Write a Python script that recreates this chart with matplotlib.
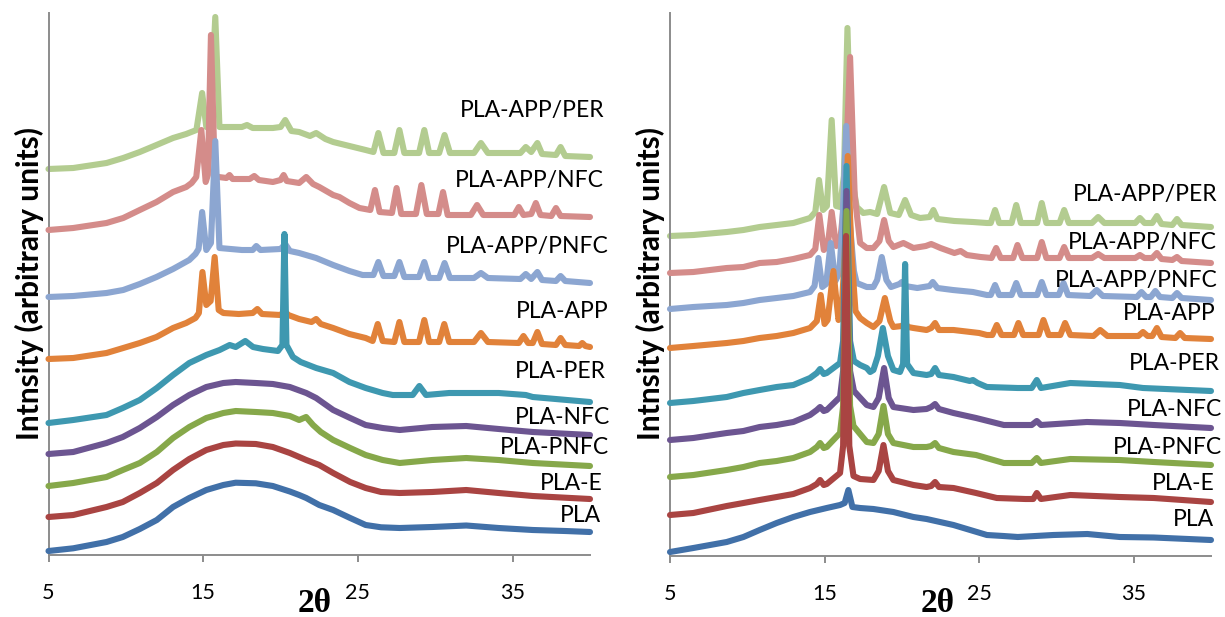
"""Stacked XRD patterns of PLA and its composites: two panels, offset curves,
labels at the right end of each curve."""

import matplotlib
matplotlib.use("Agg")
import matplotlib.pyplot as plt

SERIES = ["PLA", "PLA-E", "PLA-PNFC", "PLA-NFC", "PLA-PER", "PLA-APP",
          "PLA-APP/PNFC", "PLA-APP/NFC", "PLA-APP/PER"]
COLORS = {"PLA": "#4170A8", "PLA-E": "#A94442", "PLA-PNFC": "#86A84A",
          "PLA-NFC": "#6C5591", "PLA-PER": "#3E98B0", "PLA-APP": "#E1823A",
          "PLA-APP/PNFC": "#8CA6D1", "PLA-APP/NFC": "#D48C8A",
          "PLA-APP/PER": "#B3CC90"}
XTICKS = [5, 15, 25, 35]

# ---------------- left panel (2theta, intensity a.u.) ----------------
L_PLA_TT = [5, 6.6, 8.75, 9.8, 10.9, 12.0, 13.05, 14.1, 15.2, 16.3, 17.1, 18.4, 19.5, 20.6, 21.2, 21.66, 22.5, 23.4,
            24.5, 25.5, 26.5, 27.7, 29.8, 32, 34.1, 36.3, 38.4, 40]
L_PLA_I = [4, 6.7, 13, 18, 26, 35, 48, 57, 65, 70, 72.3, 71.7, 69, 63.5, 60, 57, 50, 45,
           37, 30, 27.7, 27, 28, 29.5, 27, 25, 24, 23]

L_E_TT = [5, 6.6, 8.75, 9.8, 10.9, 12.0, 13.05, 14.1, 15.2, 16.3, 17.1, 18.4, 19.5, 20.6, 21.66, 22.5, 23.4, 24.5,
          25.5, 26.5, 27.7, 29.8, 32, 34.1, 36.3, 40]
L_E_I = [38, 40, 48, 53, 62, 72, 85, 96, 105, 110, 111.5, 111, 108, 102, 95, 90, 82, 73,
         67, 63, 62, 63, 65, 62, 59, 56]

L_PNFC_TT = [5, 6.6, 8.75, 9.8, 10.9, 12.0, 13.05, 14.1, 15.2, 16.3, 17.1, 18.4, 19.5, 20.6, 21.2, 21.65, 22.1,
             22.6, 23.4, 24.5, 25.5, 26.6, 27.7, 29.8, 32, 34.1, 36.3, 40]
L_PNFC_I = [69, 72, 78, 85, 92, 103, 117, 128, 137, 142, 144, 143, 142, 139, 135, 138, 130,
            123, 115, 107, 100, 95, 92, 95, 97, 95, 92, 89]

L_NFC_TT = [5, 6.6, 8.75, 9.8, 10.9, 12.0, 13.05, 14.1, 15.2, 16.3, 17.1, 18.4, 19.5, 20.6, 21.66, 22.3, 23.4,
            24.5, 25.5, 26.6, 27.7, 29.8, 32, 34.1, 36.3, 40]
L_NFC_I = [101, 103, 112, 118, 127, 138, 150, 160, 168, 172, 173, 172, 171, 168, 162, 157, 145,
           137, 130, 127, 125, 128, 129, 126, 123, 120]

L_PER_TT = [5, 6.6, 8.75, 9.8, 10.9, 12.0, 13.05, 14.1, 15.2, 16.06, 16.71, 17.1, 17.72, 18.22, 18.86, 19.83,
            20.12, 20.25, 20.38, 20.8, 21.3, 22.3, 23.4, 24.45, 25.5, 26.6, 27.25, 28.54, 28.97, 29.4, 30.9,
            34.1, 35.85, 36.3, 40]
L_PER_I = [132, 135, 140, 147, 155, 167, 180, 192, 200, 205, 210, 208, 214, 208, 206, 204,
           210, 321, 210, 198, 193, 187, 182, 173, 167, 162, 160, 160, 169, 160, 162,
           162, 160, 158, 153]

L_APP_TT = [5, 6.6, 8.75, 9.83, 10.9, 11.98, 13.05, 13.9, 14.5, 14.72, 14.95, 15.2, 15.48, 15.74, 16.0, 16.3,
            17.3, 18.2, 18.5, 18.8, 20.0, 20.25, 20.5, 21.2, 22.0, 22.3, 22.6, 23.4, 24.45, 25.5, 25.95, 26.28,
            26.6, 27.35, 27.68, 28.0, 28.95, 29.29, 29.6, 30.25, 30.58, 30.9, 32.5, 32.95, 33.4, 35.4, 35.7,
            36.0, 36.3, 36.6, 36.9, 37.8, 38.1, 38.4, 39.3, 39.5, 39.7, 40]
L_APP_I = [196, 197, 202, 207, 212, 218, 227, 232, 237, 242, 283, 250, 254, 298, 245, 242,
           241, 242, 246, 241, 240, 244, 240, 236, 233, 236, 231, 227, 221, 217, 214, 231,
           214, 213, 233, 213, 213, 235, 213, 213, 231, 213, 213, 222, 213, 212, 219,
           212, 212, 223, 211, 210, 217, 210, 209, 212, 209, 208]

L_APP_PNFC_TT = [5, 6.6, 8.75, 9.83, 10.9, 11.98, 13.05, 14.1, 14.5, 14.7, 14.93, 15.2, 15.5, 15.78, 16.05,
                 17.5, 18.2, 18.43, 18.7, 20.0, 20.3, 20.6, 21.2, 22.3, 23.4, 24.45, 25.3, 26.0, 26.32, 26.65,
                 27.35, 27.68, 28.0, 28.95, 29.29, 29.6, 30.25, 30.6, 30.95, 32.5, 32.95, 33.4, 35.5, 35.85,
                 36.2, 36.6, 36.9, 37.8, 38.1, 38.4, 40]
L_APP_PNFC_I = [258, 259, 262, 265, 271, 278, 286, 295, 301, 306, 343, 305, 312, 414, 307,
                305, 305, 309, 305, 306, 311, 304, 302, 297, 290, 284, 280, 280, 293, 279,
                279, 293, 278, 278, 293, 277, 277, 292, 277, 277, 282, 277, 276, 281,
                276, 283, 275, 274, 279, 274, 272]

L_APP_NFC_TT = [5, 6.6, 8.75, 9.83, 10.9, 11.98, 13.05, 13.9, 14.25, 14.55, 14.88, 15.16, 15.3, 15.5, 15.75,
                16.0, 16.5, 16.7, 16.9, 18.0, 18.3, 18.6, 19.5, 20.0, 20.2, 20.4, 21.2, 21.66, 22.1, 22.5,
                23.4, 23.8, 24.45, 25.1, 25.8, 26.1, 26.4, 27.2, 27.5, 27.8, 28.75, 29.1, 29.45, 30.2, 30.5,
                30.8, 32.3, 32.7, 33.1, 35.1, 35.4, 35.7, 36.2, 36.5, 36.8, 37.5, 37.8, 38.1, 40]
L_APP_NFC_I = [325, 327, 332, 337, 345, 353, 363, 368, 372, 378, 425, 373, 380, 520, 380,
               378, 377, 380, 376, 376, 379, 375, 373, 375, 380, 374, 372, 378, 371, 368,
               360, 358, 352, 347, 345, 365, 343, 342, 367, 341, 341, 370, 341, 341, 363,
               340, 340, 350, 340, 340, 348, 340, 341, 352, 340, 339, 347, 339, 338]

L_APP_PER_TT = [5, 6.6, 8.75, 9.83, 10.9, 11.98, 13.05, 13.9, 14.56, 14.93, 15.2, 15.45, 15.78, 16.05, 17.5,
                17.83, 18.2, 19.5, 20.0, 20.3, 20.7, 21.2, 21.9, 22.3, 22.9, 23.4, 24.45, 25.5, 26.0, 26.32,
                26.65, 27.35, 27.68, 28.0, 28.95, 29.29, 29.6, 30.25, 30.6, 30.95, 32.5, 32.95, 33.4, 35.5,
                35.85, 36.2, 36.6, 36.9, 37.8, 38.1, 38.4, 40]
L_APP_PER_I = [386, 387, 392, 397, 403, 410, 417, 421, 425, 462, 428, 432, 538, 428, 428,
               430, 427, 427, 428, 435, 424, 423, 419, 422, 416, 413, 409, 405, 403, 422,
               402, 402, 425, 402, 402, 425, 402, 402, 420, 402, 402, 412, 402, 402,
               408, 403, 412, 401, 400, 408, 399, 398]

# ---------------- right panel ----------------
R_PLA_TT = [5, 6.51, 8.67, 9.75, 10.8, 11.9, 12.98, 14.06, 15.14, 16.0, 16.3, 16.54, 16.8, 17.3, 18.16, 19.45,
            20.75, 21.6, 22.47, 23.34, 24.42, 25.5, 26.57, 27.5, 29.8, 32, 34.1, 36.3, 40]
R_PLA_I = [4, 8, 14, 19, 26, 33, 39, 44, 48, 51, 53, 66, 49, 48, 47, 44,
           39, 37, 34, 31, 26, 21, 20, 19, 21, 22, 19, 18.5, 16]

R_E_TT = [5, 6.51, 8.67, 9.75, 10.8, 11.9, 12.98, 14.06, 14.5, 14.71, 14.95, 15.14, 16.0, 16.2, 16.39, 16.6,
          16.87, 17.3, 18.16, 18.5, 18.81, 19.1, 19.45, 20.75, 21.6, 21.9, 22.15, 22.4, 23.34, 24.8, 26.14,
          28.0, 28.5, 28.73, 29.0, 30.9, 34.1, 36.3, 40]
R_E_I = [41, 43, 50, 53, 56, 59, 62, 68, 72, 76, 71, 72, 83, 110, 320, 110,
         80, 77, 76, 85, 111, 85, 76, 71, 69, 70, 74, 69, 68, 63, 58,
         57, 57, 63, 57, 61, 59, 58, 54]

R_PNFC_TT = [5, 6.51, 8.67, 9.75, 10.8, 11.9, 12.98, 14.06, 14.5, 14.71, 14.95, 15.14, 16.0, 16.2, 16.42, 16.65,
             16.87, 17.73, 18.16, 18.5, 18.81, 19.1, 19.45, 20.75, 21.6, 21.9, 22.15, 22.4, 23.34, 24.8, 26.6,
             28.4, 28.73, 29.0, 30.9, 34.1, 36.3, 40]
R_PNFC_I = [79, 81, 86, 89, 93, 95, 98, 104, 109, 113, 108, 109, 123, 150, 345, 150,
            130, 114, 113, 122, 150, 122, 113, 109, 109, 110, 113, 108, 104, 101, 93,
            93, 98, 93, 97, 96, 94, 91]

R_NFC_TT = [5, 6.51, 8.67, 9.75, 10.8, 11.9, 12.98, 14.06, 14.5, 14.71, 14.95, 15.14, 16.0, 16.2, 16.42, 16.65,
            16.9, 17.73, 18.16, 18.5, 18.85, 19.15, 19.45, 20.75, 21.6, 21.9, 22.15, 22.4, 23.34, 24.8, 26.6,
            28.4, 28.73, 29.0, 31.97, 34.1, 36.3, 40]
R_NFC_I = [116, 118, 123, 125, 129, 131, 134, 141, 146, 149, 145, 146, 159, 185, 365, 185,
           165, 151, 149, 158, 188, 158, 149, 146, 147, 149, 152, 147, 143, 138, 131,
           131, 135, 131, 134, 133, 131, 128]

R_PER_TT = [5, 6.51, 8.67, 9.75, 10.8, 11.9, 12.98, 14.06, 14.5, 14.71, 14.95, 15.14, 16.0, 16.2, 16.42, 16.65,
            16.9, 17.3, 17.73, 17.95, 18.16, 18.45, 18.77, 19.1, 19.45, 19.88, 20.08, 20.21, 20.34, 20.75, 21.6,
            21.9, 22.15, 22.4, 23.34, 24.4, 24.6, 24.9, 25.5, 27.5, 28.4, 28.73, 29.0, 30.9, 34.1, 35.6, 40]
R_PER_I = [153, 155, 159, 163, 166, 169, 171, 178, 183, 187, 182, 183, 193, 215, 390, 215,
           195, 191, 188, 184, 186, 200, 228, 200, 186, 184, 192, 292, 192, 183, 181,
           182, 188, 181, 179, 175, 176, 173, 169, 168, 168, 176, 168, 173, 171, 168, 165]

R_APP_TT = [5, 6.51, 8.67, 9.75, 10.8, 11.9, 12.98, 14.06, 14.5, 14.75, 15.0, 15.2, 15.57, 15.9, 16.1, 16.3, 16.5,
            16.75, 17.0, 17.3, 17.73, 18.16, 18.55, 18.9, 19.25, 19.45, 20.0, 20.21, 20.4, 20.75, 21.6, 21.9,
            22.15, 22.4, 23.34, 25.0, 25.5, 25.85, 26.14, 26.45, 27.25, 27.54, 27.85, 28.85, 29.16, 29.5, 30.25,
            30.56, 30.9, 32.4, 32.83, 33.3, 35.3, 35.6, 35.9, 36.2, 36.5, 36.8, 37.7, 38.0, 38.3, 40]
R_APP_I = [208, 210, 213, 215, 218, 220, 223, 228, 235, 261, 232, 236, 285, 236, 245, 300, 400,
           300, 245, 238, 233, 229, 235, 258, 235, 229, 230, 233, 229, 228, 226, 228,
           233, 226, 226, 223, 221, 221, 231, 221, 221, 233, 221, 221, 236, 221, 221,
           233, 221, 220, 226, 220, 220, 224, 220, 220, 228, 219, 218, 223, 218, 217]

R_APP_PNFC_TT = [5, 6.51, 8.67, 9.75, 10.8, 11.9, 12.98, 14.06, 14.35, 14.6, 14.85, 15.1, 15.4, 15.7, 15.95,
                 16.15, 16.4, 16.65, 16.9, 17.08, 17.73, 18.16, 18.4, 18.7, 19.0, 19.3, 19.85, 20.0, 20.2, 21.0,
                 21.8, 22.0, 22.3, 23.3, 24.6, 25.5, 25.75, 26.03, 26.3, 27.1, 27.4, 27.7, 28.75, 29.05, 29.35,
                 30.15, 30.46, 30.75, 32.2, 32.6, 33.0, 35.2, 35.5, 35.8, 36.1, 36.4, 36.7, 37.5, 37.8, 38.1, 40]
R_APP_PNFC_I = [247, 249, 251, 253, 256, 258, 260, 264, 270, 298, 269, 272, 313, 275, 283,
                330, 430, 330, 285, 273, 269, 269, 276, 299, 276, 269, 272, 274, 270, 268,
                270, 274, 268, 266, 264, 261, 261, 271, 261, 261, 273, 261, 261, 274, 261,
                261, 273, 261, 260, 266, 260, 259, 264, 259, 259, 265, 259, 258, 263, 258, 256]

R_APP_NFC_TT = [5, 6.51, 8.67, 9.75, 10.8, 11.9, 12.98, 14.06, 14.4, 14.66, 14.95, 15.2, 15.46, 15.75, 16.0,
                16.3, 16.65, 16.95, 17.3, 17.73, 18.16, 18.55, 18.85, 19.15, 19.45, 20.1, 20.75, 21.55, 21.9,
                22.05, 22.5, 23.4, 23.8, 24.2, 25.1, 25.8, 26.1, 26.4, 27.2, 27.48, 27.8, 28.75, 29.05, 29.35,
                30.2, 30.5, 30.8, 32.3, 32.7, 33.1, 35.1, 35.4, 35.7, 36.2, 36.5, 36.8, 37.5, 37.8, 38.1, 40]
R_APP_NFC_I = [283, 284, 288, 289, 293, 294, 297, 301, 307, 341, 306, 310, 344, 310, 313,
               360, 499, 360, 313, 308, 308, 315, 336, 315, 309, 313, 308, 310, 312,
               311, 308, 303, 305, 301, 299, 298, 308, 298, 298, 311, 298, 298, 314, 298,
               298, 309, 298, 298, 302, 298, 298, 301, 298, 298, 303, 297, 296, 299, 295, 293]

R_APP_PER_TT = [5, 6.51, 8.67, 9.75, 10.8, 11.9, 12.98, 14.06, 14.4, 14.64, 14.9, 15.15, 15.46, 15.75, 16.0,
                16.25, 16.48, 16.75, 17.08, 17.5, 17.95, 18.4, 18.85, 19.25, 19.8, 20.21, 20.6, 21.18, 21.8,
                22.04, 22.3, 23.4, 24.6, 25.5, 25.75, 26.03, 26.3, 27.1, 27.4, 27.7, 28.75, 29.05, 29.35, 30.2,
                30.5, 30.8, 32.3, 32.7, 33.1, 35.1, 35.4, 35.7, 36.2, 36.5, 36.8, 37.5, 37.8, 38.1, 40]
R_APP_PER_I = [320, 321, 324, 326, 329, 331, 333, 338, 344, 376, 346, 350, 436, 350, 349,
               380, 528, 380, 349, 343, 344, 342, 369, 343, 341, 356, 341, 338, 339,
               346, 337, 335, 334, 333, 333, 346, 333, 333, 351, 333, 333, 353, 333, 333,
               346, 333, 333, 339, 333, 333, 338, 333, 333, 340, 332, 331, 337, 331, 329]

LEFT = {
    "PLA": (L_PLA_TT, L_PLA_I), "PLA-E": (L_E_TT, L_E_I), "PLA-PNFC": (L_PNFC_TT, L_PNFC_I),
    "PLA-NFC": (L_NFC_TT, L_NFC_I), "PLA-PER": (L_PER_TT, L_PER_I), "PLA-APP": (L_APP_TT, L_APP_I),
    "PLA-APP/PNFC": (L_APP_PNFC_TT, L_APP_PNFC_I), "PLA-APP/NFC": (L_APP_NFC_TT, L_APP_NFC_I),
    "PLA-APP/PER": (L_APP_PER_TT, L_APP_PER_I),
}
RIGHT = {
    "PLA": (R_PLA_TT, R_PLA_I), "PLA-E": (R_E_TT, R_E_I), "PLA-PNFC": (R_PNFC_TT, R_PNFC_I),
    "PLA-NFC": (R_NFC_TT, R_NFC_I), "PLA-PER": (R_PER_TT, R_PER_I), "PLA-APP": (R_APP_TT, R_APP_I),
    "PLA-APP/PNFC": (R_APP_PNFC_TT, R_APP_PNFC_I), "PLA-APP/NFC": (R_APP_NFC_TT, R_APP_NFC_I),
    "PLA-APP/PER": (R_APP_PER_TT, R_APP_PER_I),
}

# label anchors (right edge, vertical centre) in data units
LEFT_LABEL_POS = {"PLA-APP/PER": (40.95, 444), "PLA-APP/NFC": (40.9, 375), "PLA-APP/PNFC": (41.2, 309),
                  "PLA-APP": (41.2, 244), "PLA-PER": (41.0, 183), "PLA-NFC": (41.3, 138),
                  "PLA-PNFC": (41.2, 107), "PLA-E": (40.8, 72), "PLA": (40.7, 39)}
RIGHT_LABEL_POS = {"PLA-APP/PER": (40.45, 361), "PLA-APP/NFC": (40.4, 313), "PLA-APP/PNFC": (40.4, 276),
                   "PLA-APP": (40.3, 242), "PLA-PER": (40.6, 193), "PLA-NFC": (40.7, 146),
                   "PLA-PNFC": (40.7, 108), "PLA-E": (40.25, 73), "PLA": (40.2, 36)}

LABEL_FONT = "Lato"
AXIS_GRAY = "#8C8C8C"


def draw_panel(ax, data, label_pos, ytop):
    # top curve first so that the lower patterns sit on top where they cross
    for z, name in enumerate(reversed(SERIES)):
        tt, inten = data[name]
        ax.plot(tt, inten, color=COLORS[name], lw=4.4, solid_capstyle="round",
                solid_joinstyle="round", clip_on=False, zorder=2 + z)
        x, y = label_pos[name]
        ax.text(x, y, name, ha="right", va="center", fontsize=16.5, family=LABEL_FONT,
                color="black", zorder=20, clip_on=False)

    ax.set_xlim(5, 40)
    ax.set_ylim(0, ytop)
    ax.set_xticks(XTICKS)
    ax.set_xticklabels([str(t) for t in XTICKS], family=LABEL_FONT, fontsize=15.5)
    ax.set_yticks([])
    for side in ("top", "right"):
        ax.spines[side].set_visible(False)
    for side in ("left", "bottom"):
        ax.spines[side].set_color(AXIS_GRAY)
        ax.spines[side].set_linewidth(1.4)
    ax.tick_params(axis="x", direction="out", length=5, width=1.4, color=AXIS_GRAY, pad=15)
    ax.set_facecolor("white")


def main():
    fig = plt.figure(figsize=(12.25, 6.17), dpi=100)
    fig.patch.set_facecolor("white")
    ax_l = fig.add_axes([48.5 / 1225, 1 - 555 / 617, (590 - 48.5) / 1225, (555 - 13) / 617])
    ax_r = fig.add_axes([670 / 1225, 1 - 556 / 617, (1211 - 670) / 1225, (556 - 13) / 617])

    draw_panel(ax_l, LEFT, LEFT_LABEL_POS, 542)
    draw_panel(ax_r, RIGHT, RIGHT_LABEL_POS, 543)

    for xc in (29 / 1225, 650 / 1225):
        fig.text(xc, 1 - 283 / 617, "Intnsity (arbitrary units)", rotation=90, ha="center",
                 va="center", fontsize=21.5, fontweight="bold", family=LABEL_FONT)
    for xc in (315 / 1225, 938 / 1225):
        fig.text(xc, 1 - 603 / 617, "2\u03b8", ha="center", va="center", fontsize=24,
                 fontweight="bold", family="Liberation Serif")

    fig.savefig("out.png", dpi=100, facecolor="white")
    plt.close(fig)


if __name__ == "__main__":
    main()
